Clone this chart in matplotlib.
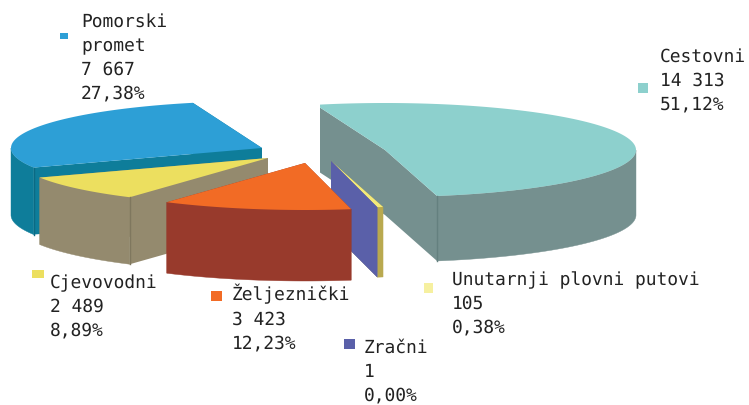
import numpy as np
import matplotlib
matplotlib.use('Agg')
import matplotlib.pyplot as plt
from matplotlib.patches import Polygon, Rectangle

plt.rcParams['text.hinting'] = 'none'

names = ['Cestovni', 'Unutarnji plovni putovi', 'Zračni', 'Željeznički', 'Cjevovodni', 'Pomorski\npromet']
values = [14313, 105, 1, 3423, 2489, 7667]
value_labels = ['14 313', '105', '1', '3 423', '2 489', '7 667']

top_colors = ['#8dd0cd', '#f3e97a', '#5a60a9', '#f26b25', '#ecdf5f', '#2d9fd6']
wall_colors = ['#75908f', '#b9a94f', '#5a60a9', '#983a2c', '#948a6e', '#0e7d9a']
seam_colors = ['#64807f', None, None, None, '#7f775e', '#0b6a84']
legend_colors = ['#8dd0cd', '#f6f0a0', '#5a60a9', '#f26b25', '#ecdf5f', '#2d9fd6']

# where each exploded slice has its tip, in pixels
tips = [(385, 150), (331, 161), (331, 161), (305, 163), (268, 158), (262, 148)]
depths = [65, 70, 70, 71, 67, 67]
text_pos = [(660, 48), (452, 271), (364, 339), (232, 284), (50, 274), (81, 13)]
box_pos = [(638, 83, 10, 10), (424, 283, 9, 10), (344, 339, 11, 10),
           (211, 291, 11, 10), (32, 270, 12, 8), (60, 33, 8, 6)]

RX = 251
RY = 47
START = 106


def outer(tip, t):
    t = np.radians(t)
    return np.column_stack([tip[0] + RX * np.cos(t), tip[1] - RY * np.sin(t)])


def extrude(pts, depth):
    low = pts + np.array([0, depth])
    return np.vstack([pts, low[::-1]])


fig = plt.figure(figsize=(7.49, 4.05), dpi=100)
ax = fig.add_axes([0, 0, 1, 1])
ax.set_xlim(0, 749)
ax.set_ylim(405, 0)
ax.axis('off')

total = sum(values)
angles = START - np.cumsum([0] + values) / total * 360

# back to front
order = [5, 0, 4, 1, 2, 3]
for z, i in enumerate(order):
    t0, t1 = angles[i], angles[i + 1]
    tip = tips[i]
    ts = np.linspace(t0, t1, 200)
    arc = outer(tip, ts)
    tip_pt = np.array([tip], dtype=float)
    parts = []
    parts.append(Polygon(extrude(np.vstack([tip_pt, arc[:1]]), depths[i]), fc=wall_colors[i], ec='none'))
    parts.append(Polygon(extrude(np.vstack([tip_pt, arc[-1:]]), depths[i]), fc=wall_colors[i], ec='none'))
    front = arc[np.sin(np.radians(ts)) < 0]
    if len(front) > 1:
        parts.append(Polygon(extrude(front, depths[i]), fc=wall_colors[i], ec=wall_colors[i], lw=0.3))
    if values[i] > 1:
        parts.append(Polygon(np.vstack([tip_pt, arc]), fc=top_colors[i], ec='none'))
    for p in parts:
        p.set_zorder(z + 1)
        ax.add_patch(p)
        if i == 0:
            # the first slice is cut off on its left side in the original
            p.set_clip_path(Rectangle((320, 0), 429, 405, transform=ax.transData))
    if seam_colors[i]:
        corner = arc[-1] if i == 0 else arc[0]
        ax.plot([corner[0], corner[0]], [corner[1], corner[1] + depths[i]], color=seam_colors[i],
                lw=1, zorder=z + 1)

for i in range(len(names)):
    x, y, w, h = box_pos[i]
    ax.add_patch(Rectangle((x, y), w, h, fc=legend_colors[i], ec='none', zorder=10))
    pct = f'{values[i] / total * 100:.2f}'.replace('.', ',') + '%'
    label = names[i] + '\n' + value_labels[i] + '\n' + pct
    ax.text(text_pos[i][0], text_pos[i][1], label, family='DejaVu Sans Mono', fontsize=12.85,
            color='#222222', va='top', ha='left', linespacing=1.47, zorder=11)

fig.savefig('out.png', dpi=100)
